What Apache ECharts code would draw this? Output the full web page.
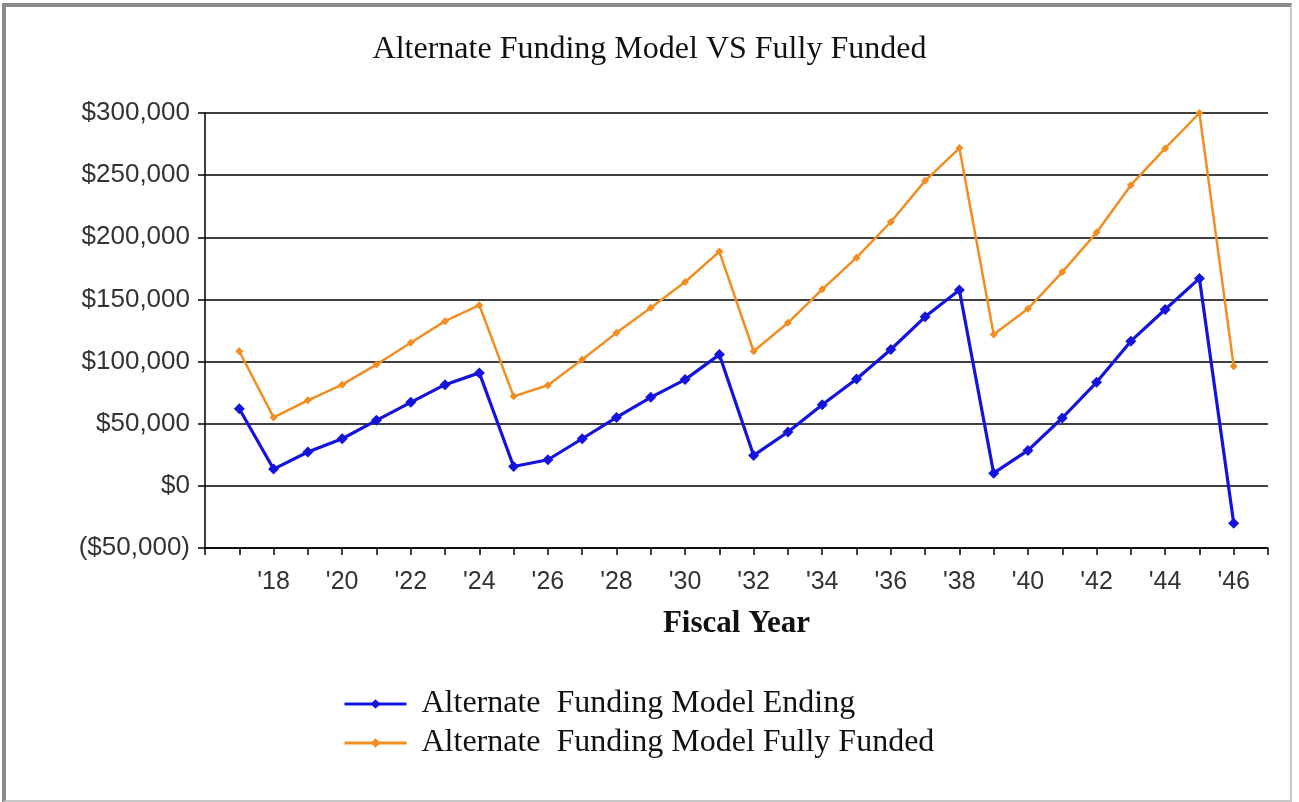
<!DOCTYPE html>
<html>
    <head>
        <meta charset="utf-8">
        <title>Alternate Funding Model VS Fully Funded</title>
        <script src="https://cdn.jsdelivr.net/npm/echarts@6/dist/echarts.min.js"></script>
        <style>
            html, body { margin:0; padding:0; background:#fff; }
            #frame {
                position:absolute; left:2px; top:3px; width:1284px; height:793px;
                border-left:4px solid #8a8a8a; border-top:4px solid #8a8a8a;
                border-right:2px solid #c8c8c8; border-bottom:2px solid #c8c8c8;
            }
        </style>
    </head>
    <body>
        <div id="frame"></div>
        <div id="main" style="position:absolute;left:0;top:0;width:1299px;height:802px;"></div>
        <script type="text/javascript">
            // fiscal years ('17 .. '46)
            var years = [17, 18, 19, 20, 21, 22, 23, 24, 25, 26, 27, 28, 29, 30, 31,
                         32, 33, 34, 35, 36, 37, 38, 39, 40, 41, 42, 43, 44, 45, 46];
            var ending = [62000, 13500, 27200, 37900, 52700, 67200, 81400, 90900, 15600, 21000,
                          37900, 55100, 71200, 85500, 105600, 24500, 43300, 65300, 86000, 109700,
                          136000, 157500, 10200, 28500, 54600, 83300, 116400, 141900, 166900, -30100];
            var fullyFunded = [108300, 55100, 68800, 81400, 97600, 115100, 132500, 145400, 72000, 80900,
                               101600, 123100, 143300, 164000, 188500, 108300, 131200, 158100, 183600, 212300,
                               245400, 271800, 121800, 142500, 172000, 203800, 241900, 271500, 300000, 96200];
            var yTicks = [-50000, 0, 50000, 100000, 150000, 200000, 250000, 300000];

            function pairs(vals) {
                return years.map(function(y, i) { return [y, vals[i]]; });
            }
            function money(v) {
                var s = '$' + Math.abs(v).toLocaleString('en-US');
                return v < 0 ? '(' + s + ')' : s;
            }

            var mychart = echarts.init(document.getElementById('main'));
            var option = {
                animation: false,
                title: {
                    text: 'Alternate Funding Model VS Fully Funded',
                    left: 'center',
                    top: 29,
                    textStyle: {
                        fontFamily: 'Liberation Serif',
                        fontWeight: 'normal',
                        fontSize: 32,
                        color: '#111'
                    }
                },
                legend: {
                    orient: 'vertical',
                    left: 338,
                    top: 683,
                    itemWidth: 62,
                    itemHeight: 12,
                    itemGap: 7,
                    lineStyle: { width: 3 },
                    textStyle: {
                        fontFamily: 'Liberation Serif',
                        fontSize: 32,
                        color: '#111',
                        padding: [0, 0, 0, 10]
                    },
                    data: ['Alternate  Funding Model Ending', 'Alternate  Funding Model Fully Funded']
                },
                grid: {
                    left: 205,
                    right: 31,
                    top: 113,
                    bottom: 254
                },
                xAxis: {
                    type: 'value',
                    min: 16,
                    max: 47,
                    interval: 1,
                    name: 'Fiscal Year',
                    nameLocation: 'middle',
                    nameGap: 60,
                    nameTextStyle: {
                        fontFamily: 'Liberation Serif',
                        fontWeight: 'bold',
                        fontSize: 31,
                        color: '#111'
                    },
                    axisLine: { onZero: false, lineStyle: { color: '#000', width: 1.5 } },
                    axisTick: { length: 7, lineStyle: { color: '#000', width: 1.5 } },
                    splitLine: { show: false },
                    axisLabel: {
                        margin: 22,
                        fontFamily: 'Liberation Sans',
                        fontSize: 25,
                        color: '#333',
                        formatter: function(v) {
                            return (v >= 18 && v <= 46 && v % 2 === 0) ? "'" + v : '';
                        }
                    }
                },
                yAxis: {
                    type: 'value',
                    min: yTicks[0],
                    max: yTicks[yTicks.length - 1],
                    interval: 50000,
                    axisLine: { show: true, lineStyle: { color: '#000', width: 1.5 } },
                    axisTick: { show: true, length: 7, lineStyle: { color: '#000', width: 1.5 } },
                    splitLine: { lineStyle: { color: '#000', width: 1.5 } },
                    axisLabel: {
                        margin: 15,
                        fontFamily: 'Liberation Sans',
                        fontSize: 26,
                        color: '#333',
                        formatter: money
                    }
                },
                series: [
                    {
                        name: 'Alternate  Funding Model Ending',
                        type: 'line',
                        data: pairs(ending),
                        symbol: 'diamond',
                        symbolSize: 11,
                        lineStyle: { color: '#1414dc', width: 3.2 },
                        itemStyle: { color: '#1414dc' }
                    },
                    {
                        name: 'Alternate  Funding Model Fully Funded',
                        type: 'line',
                        data: pairs(fullyFunded),
                        symbol: 'diamond',
                        symbolSize: 8,
                        lineStyle: { color: '#f28d22', width: 2.5 },
                        itemStyle: { color: '#f28d22' }
                    }
                ]
            };
            mychart.setOption(option);
        </script>
    </body>
</html>
